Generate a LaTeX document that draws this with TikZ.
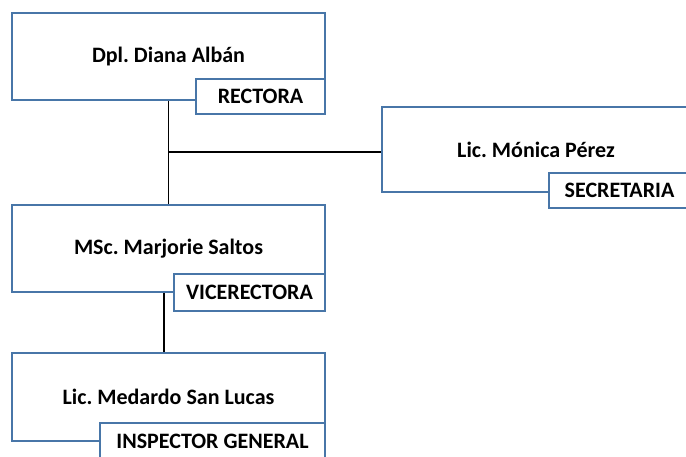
\documentclass[tikz,border=0pt]{standalone}
\usepackage{fontspec}
\setmainfont{Carlito}
\frenchspacing
\usetikzlibrary{positioning}
\definecolor{bordeazul}{RGB}{72,118,168}
\tikzset{every cargo/.style={draw=bordeazul, line width=1.6pt, fill=white},
        cargo/.style={every cargo, minimum width=313pt, minimum height=87pt,
                      inner sep=0pt, font=\fontsize{22}{26}\selectfont\bfseries},
        puesto/.style={every cargo, minimum height=36pt, inner sep=0pt,
                       font=\fontsize{22}{26}\selectfont\bfseries},
        enlace/.style={draw=black, line width=1.5pt},
        }

\begin{document}
\begin{tikzpicture}[x=1pt,y=-1pt]
    \useasboundingbox (0,0) rectangle (686,457);
    \clip (0,0) rectangle (686,457);

    % cajas principales
    \node[cargo] (rectora) at (168.5,56.5) {Dpl. Diana Albán};
    \node[cargo, minimum width=308pt, minimum height=85pt] (secretaria) at (536,149.5) {Lic. Mónica Pérez};
    \node[cargo] (vicerectora) at (168.5,248.5) {MSc. Marjorie Saltos};
    \node[cargo, minimum height=88pt] (inspector) at (168.5,397) {Lic. Medardo San Lucas};

    % lineas
    \draw[enlace] (rectora.south) -- (vicerectora.north);
    \coordinate (union) at (rectora.south |- 0,152);
    \draw[enlace] (union) -- (secretaria.west |- union);
    \draw[enlace] ([xshift=-4.5pt]vicerectora.south) -- ([xshift=-4.5pt]inspector.north);

    % etiquetas
    \node[puesto, minimum width=129pt, minimum height=35pt] (etqrectora) at (260.5,96.5) {RECTORA};
    \node[puesto, minimum width=141pt, minimum height=35pt] (etqsecretaria) at (619.5,190.5) {SECRETARIA};
    \node[puesto, minimum width=151pt, minimum height=37pt] (etqvicerectora) at (249.5,292.5) {VICERECTORA};
    \node[puesto, minimum width=225pt, minimum height=37pt] (etqinspector) at (212.5,441.5) {INSPECTOR GENERAL};
\end{tikzpicture}
\end{document}
